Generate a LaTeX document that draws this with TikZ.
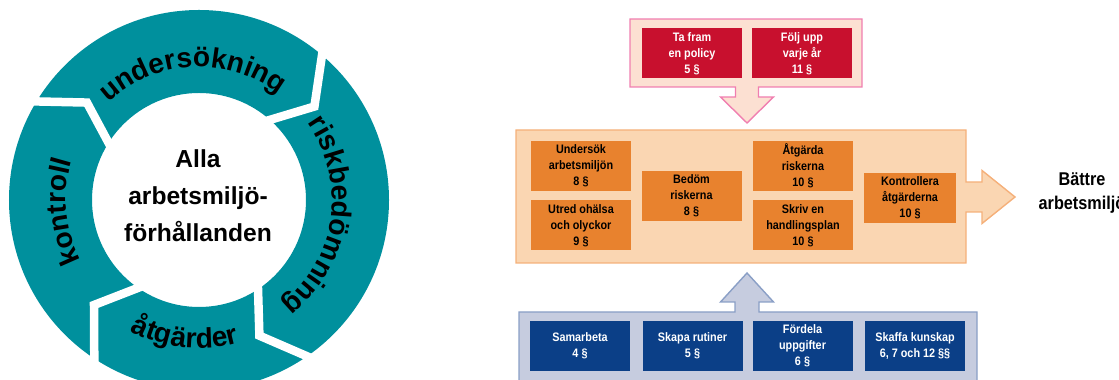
\documentclass[tikz,border=0pt]{standalone}
\usepackage{fontspec}
\setmainfont{Liberation Sans}
\newfontfamily\narrowfont{Liberation Sans}[FakeStretch=0.88]
\usetikzlibrary{decorations.text}
\newcommand{\ringfont}{\bfseries\fontsize{16}{18}\selectfont}

\begin{document}
\begin{tikzpicture}[font=\narrowfont\bfseries\fontsize{7}{9}\selectfont,
  box/.style={minimum width=2cm, minimum height=1cm, inner sep=0pt, align=center},
  redbox/.style={box, fill=policyred, text=white},
  orangebox/.style={box, fill=workorange, text=black},
  bluebox/.style={box, fill=basenavy, text=white},
  ringtext/.style={decorate, decoration={text along path, text={|\ringfont|#1}, text align=center}}]
  \definecolor{ringteal}{HTML}{00909D}
  \definecolor{policyred}{HTML}{C8102E}
  \definecolor{policyfill}{HTML}{FCE0D2}
  \definecolor{policyedge}{HTML}{F07FB0}
  \definecolor{workorange}{HTML}{E8822E}
  \definecolor{workfill}{HTML}{FAD6B2}
  \definecolor{workedge}{HTML}{F5B07A}
  \definecolor{basenavy}{HTML}{0B3F87}
  \definecolor{basefill}{HTML}{C6CCDF}
  \definecolor{baseedge}{HTML}{8A9FC6}

  \useasboundingbox (0,0) rectangle (22.38,7.6);

  \begin{scope}[shift={(3.98,3.6)}]
    \fill[ringteal, even odd rule] (0,0) circle (3.8) (0,0) circle (2.14);
    \foreach \base/\tip in {150/139, 51/39, -54/-66, -122/-135}
      \draw[white, line width=0.17cm, line join=miter] (\base:3.95) -- (\tip:2.97) -- (\base:2.0);
    \path[ringtext=undersökning] (153:2.66) arc[start angle=153, end angle=33, radius=2.66];
    \path[ringtext=riskbedömning] (52:2.66) arc[start angle=52, end angle=-68, radius=2.66];
    \path[ringtext=åtgärder] (-146:2.96) arc[start angle=-146, end angle=-46, radius=2.96];
    \path[ringtext=kontroll] (245:2.66) arc[start angle=245, end angle=125, radius=2.66];
  \end{scope}
  \node[font=\bfseries\fontsize{14}{21}\selectfont, align=center] (alla) at (3.96,3.68) {Alla\\arbetsmiljö-\\förhållanden};

  \draw[fill=policyfill, draw=policyedge, thick] (12.6,7.22) -- (17.24,7.22) -- (17.24,5.86) -- (15.17,5.86) -- (15.17,5.66)
    -- (15.47,5.66) -- (14.94,5.14) -- (14.41,5.66) -- (14.71,5.66) -- (14.71,5.86) -- (12.6,5.86) -- cycle;
  \node[redbox] (policy) at (13.84,6.53) {Ta fram\\en policy\\5 §};
  \node[redbox] (followup) at (16.04,6.53) {Följ upp\\varje år\\11 §};

  \draw[fill=workfill, draw=workedge, thick] (10.32,5.0) -- (19.32,5.0) -- (19.32,3.96) -- (19.64,3.96) -- (19.64,4.19)
    -- (20.3,3.66) -- (19.64,3.13) -- (19.64,3.36) -- (19.32,3.36) -- (19.32,2.34) -- (10.32,2.34) -- cycle;
  \node[orangebox] (survey) at (11.62,4.28) {Undersök\\arbetsmiljön\\8 §};
  \node[orangebox] (inquire) at (11.62,3.09) {Utred ohälsa\\och olyckor\\9 §};
  \node[orangebox] (assess) at (13.83,3.68) {Bedöm\\riskerna\\8 §};
  \node[orangebox] (remedy) at (16.06,4.28) {Åtgärda\\riskerna\\10 §};
  \node[orangebox] (plan) at (16.06,3.09) {Skriv en\\handlingsplan\\10 §};
  \node[orangebox, minimum width=1.84cm] (check) at (18.2,3.64) {Kontrollera\\åtgärderna\\10 §};
  \node[font=\narrowfont\bfseries\fontsize{10.5}{14}\selectfont, align=center] (better) at (21.64,3.74) {Bättre\\arbetsmiljö};

  \draw[fill=basefill, draw=baseedge, thick] (10.38,-0.3) -- (10.38,1.36) -- (14.7,1.36) -- (14.7,1.56) -- (14.41,1.56)
    -- (14.94,2.14) -- (15.47,1.56) -- (15.18,1.56) -- (15.18,1.36) -- (19.54,1.36) -- (19.54,-0.3) -- cycle;
  \node[bluebox] (cooperate) at (11.6,0.68) {Samarbeta\\4 §};
  \node[bluebox] (routines) at (13.85,0.68) {Skapa rutiner\\5 §};
  \node[bluebox] (tasks) at (16.05,0.68) {Fördela\\uppgifter\\6 §};
  \node[bluebox] (knowledge) at (18.3,0.68) {Skaffa kunskap\\6, 7 och 12 §§};
\end{tikzpicture}
\end{document}
